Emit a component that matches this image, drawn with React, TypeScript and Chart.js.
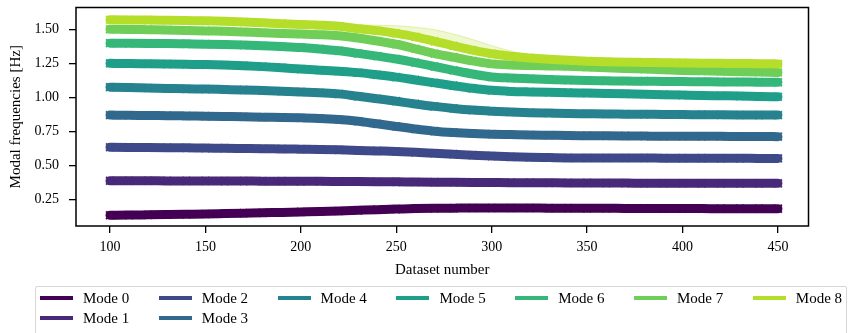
import { useEffect, useRef } from "react";
import { Chart, registerables } from "chart.js";
Chart.register(...registerables);

const DATASET_NUMBERS = [100, 110, 120, 130, 140, 150, 160, 170, 180, 190, 200, 210, 220, 230, 240, 250, 260, 270, 280, 290, 300, 310, 320, 330, 340, 350, 360, 370, 380, 390, 400, 410, 420, 430, 440, 450];

const MODE_0 = [0.135, 0.136, 0.138, 0.140, 0.142, 0.144, 0.147, 0.150, 0.153, 0.156, 0.159, 0.162, 0.166, 0.171, 0.176, 0.180, 0.184, 0.186, 0.187, 0.188, 0.188, 0.188, 0.188, 0.187, 0.187, 0.186, 0.186, 0.185, 0.185, 0.184, 0.184, 0.184, 0.183, 0.183, 0.183, 0.183];
const MODE_1 = [0.388, 0.388, 0.388, 0.387, 0.387, 0.387, 0.386, 0.386, 0.385, 0.385, 0.384, 0.384, 0.383, 0.382, 0.381, 0.380, 0.379, 0.378, 0.377, 0.376, 0.375, 0.374, 0.374, 0.373, 0.372, 0.372, 0.371, 0.371, 0.370, 0.370, 0.370, 0.369, 0.369, 0.369, 0.369, 0.369];
const MODE_2 = [0.634, 0.633, 0.632, 0.631, 0.630, 0.628, 0.627, 0.625, 0.623, 0.622, 0.620, 0.618, 0.615, 0.611, 0.607, 0.603, 0.597, 0.590, 0.583, 0.576, 0.569, 0.564, 0.560, 0.558, 0.556, 0.555, 0.555, 0.555, 0.555, 0.554, 0.554, 0.554, 0.553, 0.553, 0.552, 0.552];
const MODE_3 = [0.870, 0.869, 0.867, 0.866, 0.864, 0.862, 0.860, 0.858, 0.855, 0.853, 0.850, 0.846, 0.838, 0.825, 0.806, 0.787, 0.768, 0.752, 0.742, 0.735, 0.730, 0.727, 0.724, 0.722, 0.720, 0.719, 0.718, 0.717, 0.716, 0.715, 0.715, 0.714, 0.714, 0.713, 0.713, 0.712];
const MODE_4 = [1.075, 1.072, 1.069, 1.066, 1.063, 1.061, 1.058, 1.055, 1.050, 1.045, 1.040, 1.034, 1.026, 1.008, 0.990, 0.972, 0.952, 0.934, 0.919, 0.907, 0.899, 0.893, 0.888, 0.885, 0.882, 0.880, 0.878, 0.877, 0.876, 0.875, 0.874, 0.873, 0.872, 0.871, 0.870, 0.870];
const MODE_5 = [1.250, 1.249, 1.247, 1.245, 1.243, 1.241, 1.238, 1.233, 1.226, 1.218, 1.208, 1.200, 1.192, 1.182, 1.166, 1.149, 1.128, 1.107, 1.086, 1.067, 1.052, 1.044, 1.040, 1.037, 1.035, 1.032, 1.029, 1.026, 1.023, 1.020, 1.017, 1.014, 1.012, 1.010, 1.007, 1.005];
const MODE_6 = [1.398, 1.397, 1.396, 1.395, 1.393, 1.391, 1.388, 1.384, 1.379, 1.373, 1.366, 1.356, 1.342, 1.323, 1.303, 1.282, 1.255, 1.227, 1.199, 1.172, 1.150, 1.142, 1.137, 1.132, 1.127, 1.124, 1.122, 1.120, 1.119, 1.117, 1.116, 1.115, 1.114, 1.113, 1.112, 1.111];
const MODE_7 = [1.500, 1.499, 1.497, 1.495, 1.492, 1.488, 1.485, 1.480, 1.475, 1.470, 1.465, 1.460, 1.452, 1.436, 1.414, 1.390, 1.357, 1.322, 1.295, 1.268, 1.246, 1.238, 1.234, 1.231, 1.228, 1.223, 1.218, 1.213, 1.208, 1.203, 1.198, 1.195, 1.192, 1.189, 1.186, 1.183];
const MODE_8 = [1.570, 1.569, 1.568, 1.566, 1.564, 1.562, 1.559, 1.554, 1.548, 1.541, 1.535, 1.530, 1.522, 1.505, 1.490, 1.470, 1.445, 1.412, 1.378, 1.347, 1.320, 1.302, 1.290, 1.280, 1.272, 1.266, 1.262, 1.259, 1.257, 1.255, 1.253, 1.251, 1.250, 1.249, 1.247, 1.246];

const MODES = [MODE_0, MODE_1, MODE_2, MODE_3, MODE_4, MODE_5, MODE_6, MODE_7, MODE_8];
const MODE_LABELS = ["Mode 0", "Mode 1", "Mode 2", "Mode 3", "Mode 4", "Mode 5", "Mode 6", "Mode 7", "Mode 8"];
const MODE_COLORS = ["#440154", "#482878", "#3e4989", "#31688e", "#26828e", "#1f9e89", "#35b779", "#6ece58", "#b5de2b"];

// faint upper track of mode 8 in the transition region
const TRACK_8_X = [220, 230, 240, 250, 260, 270, 280, 290, 300, 310, 320, 330, 340];
const TRACK_8_Y = [1.530, 1.532, 1.530, 1.526, 1.515, 1.497, 1.465, 1.425, 1.380, 1.340, 1.310, 1.290, 1.278];

const X_TICKS = [100, 150, 200, 250, 300, 350, 400, 450];
const Y_TICKS = [0.25, 0.5, 0.75, 1.0, 1.25, 1.5];
const LEGEND_COLUMNS = [[0, 1], [2, 3], [4], [5], [6], [7], [8]];

const FONT = "'Liberation Serif', 'Times New Roman', serif";

const framePlugin = {
  id: "frame",
  afterDatasetsDraw(chart: any) {
    const { ctx, chartArea } = chart;
    const { left, top, right, bottom } = chartArea;
    ctx.save();
    ctx.strokeStyle = "#000";
    ctx.lineWidth = 1.5;
    ctx.strokeRect(left, top, right - left, bottom - top);
    ctx.restore();
  },
};

export default function App() {
  const ref = useRef<HTMLCanvasElement | null>(null);

  useEffect(() => {
    if (!ref.current) return;
    const modeSets = MODES.map((vals, i) => ({
      label: MODE_LABELS[i],
      data: DATASET_NUMBERS.map((x, j) => ({ x, y: vals[j] })),
      borderColor: MODE_COLORS[i],
      backgroundColor: MODE_COLORS[i],
      borderWidth: 9,
      borderCapStyle: "round" as const,
      borderJoinStyle: "round" as const,
      pointStyle: "crossRot" as const,
      pointRadius: 5.5,
      pointBorderWidth: 2,
      pointBorderColor: MODE_COLORS[i],
      pointHoverRadius: 5.5,
      fill: false,
      cubicInterpolationMode: "monotone" as const,
      order: 8 - i,
    }));
    const trackSet = {
      label: "track",
      data: TRACK_8_X.map((x, j) => ({ x, y: TRACK_8_Y[j] })),
      borderColor: "rgba(181,222,43,0.35)",
      backgroundColor: "rgba(181,222,43,0.22)",
      borderWidth: 1,
      pointRadius: 0,
      fill: 8,
      cubicInterpolationMode: "monotone" as const,
      order: 20,
    };
    const chart = new Chart(ref.current, {
      type: "line",
      data: { datasets: [...modeSets, trackSet] as any },
      options: {
        animation: false,
        responsive: false,
        maintainAspectRatio: false,
        layout: { padding: { left: 0, right: 41.5, top: 5, bottom: 54 } },
        plugins: { legend: { display: false }, tooltip: { enabled: false } },
        scales: {
          x: {
            type: "linear",
            min: 82.2,
            max: 466,
            afterFit: (s: any) => { s.height = 53; s.paddingLeft = 0; s.paddingRight = 0; },
            afterBuildTicks: (s: any) => { s.ticks = X_TICKS.map((v) => ({ value: v })); },
            grid: { display: true, drawOnChartArea: false, drawTicks: true, tickLength: 7, color: "#000", lineWidth: 1.3 },
            border: { display: false },
            ticks: { font: { family: FONT, size: 14 }, color: "#000", padding: 6, maxRotation: 0, callback: (v: any) => String(v) },
            title: { display: true, text: "Dataset number", font: { family: FONT, size: 15 }, color: "#000", padding: { top: 0, bottom: 0 } },
          },
          y: {
            type: "linear",
            min: 0.056,
            max: 1.66,
            afterFit: (s: any) => { s.width = 76; s.paddingTop = 0; s.paddingBottom = 0; },
            afterBuildTicks: (s: any) => { s.ticks = Y_TICKS.map((v) => ({ value: v })); },
            grid: { display: true, drawOnChartArea: false, drawTicks: true, tickLength: 7, color: "#000", lineWidth: 1.3 },
            border: { display: false },
            ticks: { font: { family: FONT, size: 14 }, color: "#000", padding: 10, callback: (v: any) => Number(v).toFixed(2) },
            title: { display: true, text: "Modal frequencies [Hz]", font: { family: FONT, size: 15 }, color: "#000", padding: { top: 7, bottom: 0 } },
          },
        },
      },
      plugins: [framePlugin],
    });
    return () => chart.destroy();
  }, []);

  return (
    <div style={{ position: "absolute", left: 0, top: 0, width: 850, height: 333, overflow: "hidden", background: "#fff" }}>
      <canvas ref={ref} width={850} height={333} style={{ position: "absolute", left: 0, top: 0 }} />
      <div
        style={{
          position: "absolute",
          left: 35,
          top: 286,
          width: 812,
          height: 70,
          border: "1.5px solid #d6d6d6",
          borderRadius: 2,
          boxSizing: "border-box",
        }}
      />
      {LEGEND_COLUMNS.map((col, c) =>
        col.map((idx, r) => (
          <div
            key={idx}
            style={{
              position: "absolute",
              left: 40 + c * 118.8,
              top: 298 + r * 20 - 10,
              height: 20,
              display: "flex",
              alignItems: "center",
              fontFamily: FONT,
              fontSize: 15,
              color: "#000",
              whiteSpace: "nowrap",
            }}
          >
            <span style={{ display: "inline-block", width: 33, height: 3.5, background: MODE_COLORS[idx], marginRight: 10 }} />
            <span>{MODE_LABELS[idx]}</span>
          </div>
        ))
      )}
    </div>
  );
}
